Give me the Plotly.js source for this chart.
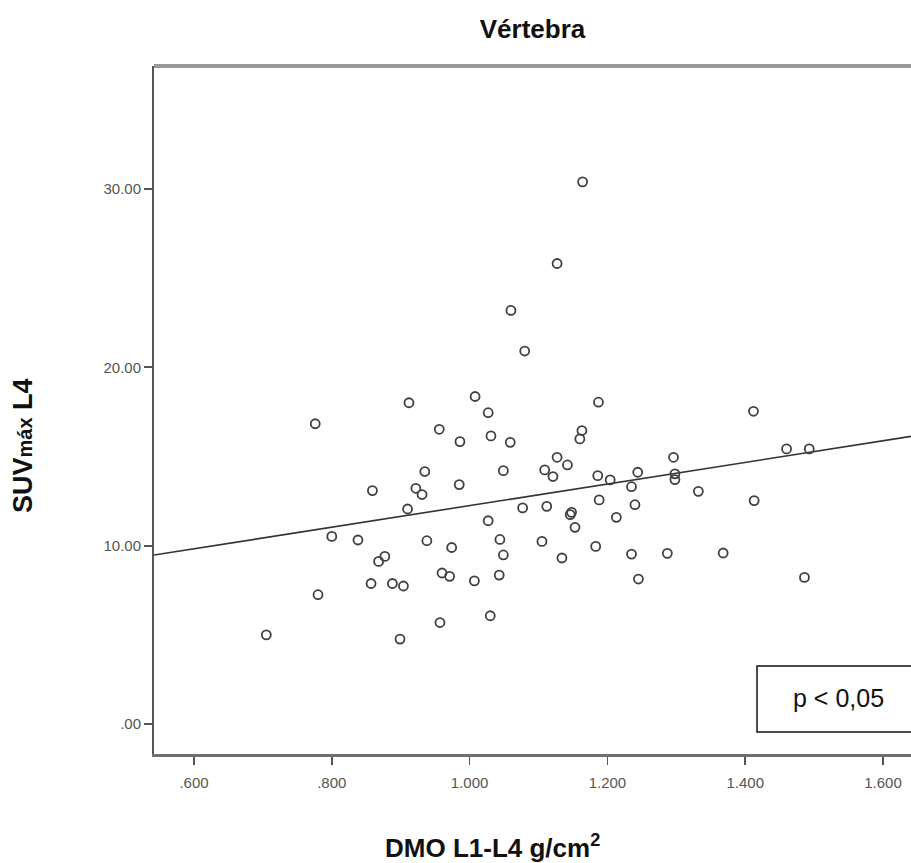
<!DOCTYPE html>
<html>
<head>
<meta charset="utf-8">
<script src="https://cdn.plot.ly/plotly-3.0.1.min.js"></script>
<style>html,body{margin:0;padding:0;background:#fff;}#chart{width:911px;height:863px;}</style>
</head>
<body>
<div id="chart"></div>
<script>
// DMO L1-L4 (g/cm2) and SUVmax L4 values
const dmo = [1.164, 1.127, 1.060, 1.080, 0.912, 0.776, 1.008, 1.027, 0.956, 0.986,
             1.031, 1.059, 1.187, 1.163, 1.160, 1.412, 1.296, 1.460, 1.493, 1.127,
             1.142, 0.935, 1.049, 1.109, 1.121, 0.859, 0.922, 0.931, 0.985, 0.910,
             1.077, 1.112, 1.148, 1.146, 1.153, 1.027, 0.800, 0.838, 0.938, 0.974,
             1.044, 1.105, 1.134, 0.877, 0.868, 1.049, 0.960, 0.971, 1.007, 1.043,
             0.857, 0.888, 0.904, 0.780, 0.705, 0.899, 0.957, 1.030, 1.186, 1.204,
             1.244, 1.298, 1.298, 1.235, 1.332, 1.188, 1.240, 1.413, 1.213, 1.183,
             1.235, 1.287, 1.368, 1.245, 1.486];
const suv = [30.41, 25.83, 23.20, 20.92, 18.02, 16.84, 18.37, 17.46, 16.53, 15.84,
             16.16, 15.80, 18.05, 16.46, 15.99, 17.54, 14.96, 15.43, 15.43, 14.96,
             14.53, 14.16, 14.21, 14.25, 13.88, 13.09, 13.22, 12.87, 13.43, 12.06,
             12.12, 12.21, 11.87, 11.74, 11.03, 11.40, 10.52, 10.32, 10.28, 9.90,
             10.35, 10.24, 9.31, 9.40, 9.12, 9.48, 8.47, 8.28, 8.03, 8.35,
             7.88, 7.88, 7.74, 7.25, 5.00, 4.76, 5.69, 6.07, 13.93, 13.69,
             14.12, 14.03, 13.71, 13.31, 13.05, 12.57, 12.30, 12.53, 11.59, 9.96,
             9.53, 9.57, 9.59, 8.13, 8.22];
// Fit line
const fitIntercept = 6.19;
const fitSlope = 6.06;
const xTickVals = [0.6, 0.8, 1.0, 1.2, 1.4, 1.6];
const xTickText = ['.600', '.800', '1.000', '1.200', '1.400', '1.600'];
const yTickVals = [0, 10, 20, 30];
const yTickText = ['.00', '10.00', '20.00', '30.00'];
const xRange = [0.542, 1.6406];
const yRange = [-1.685, 36.91];

const fitX = xRange.slice();
const fitY = fitX.map(v => fitIntercept + fitSlope * v);

const font = '"Liberation Sans", Arial, sans-serif';

const traces = [
  {
    x: fitX, y: fitY, type: 'scatter', mode: 'lines',
    line: {color: '#333', width: 1.6}, hoverinfo: 'skip'
  },
  {
    x: dmo, y: suv, type: 'scatter', mode: 'markers',
    marker: {symbol: 'circle-open', size: 9, color: '#404040', line: {width: 1.8, color: '#404040'}},
    cliponaxis: false
  }
];

const layout = {
  width: 911, height: 863,
  margin: {l: 154, r: 0, t: 66, b: 109},
  paper_bgcolor: '#fff', plot_bgcolor: '#fff',
  showlegend: false,
  font: {family: font},
  title: {
    text: '<b>Vértebra</b>',
    font: {family: font, size: 26, color: '#111'},
    x: 0.5, xref: 'paper', xanchor: 'center',
    y: 1 - 29 / 863, yref: 'container', yanchor: 'middle'
  },
  xaxis: {
    range: xRange, showgrid: false, zeroline: false,
    showline: true, linecolor: '#707070', linewidth: 2.5,
    ticks: 'outside', ticklen: 8, tickwidth: 1.5, tickcolor: '#555',
    tickvals: xTickVals, ticktext: xTickText,
    tickfont: {family: font, size: 15, color: '#555'},
    ticklabelstandoff: 5
  },
  yaxis: {
    range: yRange, showgrid: false, zeroline: false,
    showline: true, linecolor: '#555', linewidth: 2,
    ticks: 'outside', ticklen: 8, tickwidth: 2, tickcolor: '#555',
    tickvals: yTickVals, ticktext: yTickText,
    tickfont: {family: font, size: 15, color: '#555'},
    ticklabelstandoff: 0
  },
  shapes: [
    {type: 'line', xref: 'paper', yref: 'paper', x0: 0, x1: 1.02, y0: 1, y1: 1,
     line: {color: '#999', width: 4}},
    {type: 'rect', xref: 'paper', yref: 'paper', x0: 0.7966, x1: 1.02, y0: 0.032, y1: 0.128,
     line: {color: '#111', width: 1.5}, fillcolor: 'rgba(255,255,255,0)'}
  ],
  annotations: [
    {text: 'p &lt; 0,05', xref: 'paper', yref: 'paper', x: 0.904, y: 0.0815,
     xanchor: 'center', yanchor: 'middle', showarrow: false,
     font: {family: font, size: 25, color: '#111'}},
    {text: '<b>DMO L1-L4 g/cm<sup>2</sup></b>', xref: 'paper', yref: 'paper',
     x: (492 - 154) / 757, y: -(846 - 754) / 688,
     xanchor: 'center', yanchor: 'middle', showarrow: false,
     font: {family: font, size: 26, color: '#111'}},
    {text: '<b>SUV<span style="font-size:20px">máx</span> L4</b>', xref: 'paper', yref: 'paper',
     x: (23 - 154) / 757, y: (754 - 446) / 688, textangle: -90,
     xanchor: 'center', yanchor: 'middle', showarrow: false,
     font: {family: font, size: 27, color: '#111'}}
  ]
};

Plotly.newPlot('chart', traces, layout, {displayModeBar: false, staticPlot: true});
</script>
</body>
</html>
